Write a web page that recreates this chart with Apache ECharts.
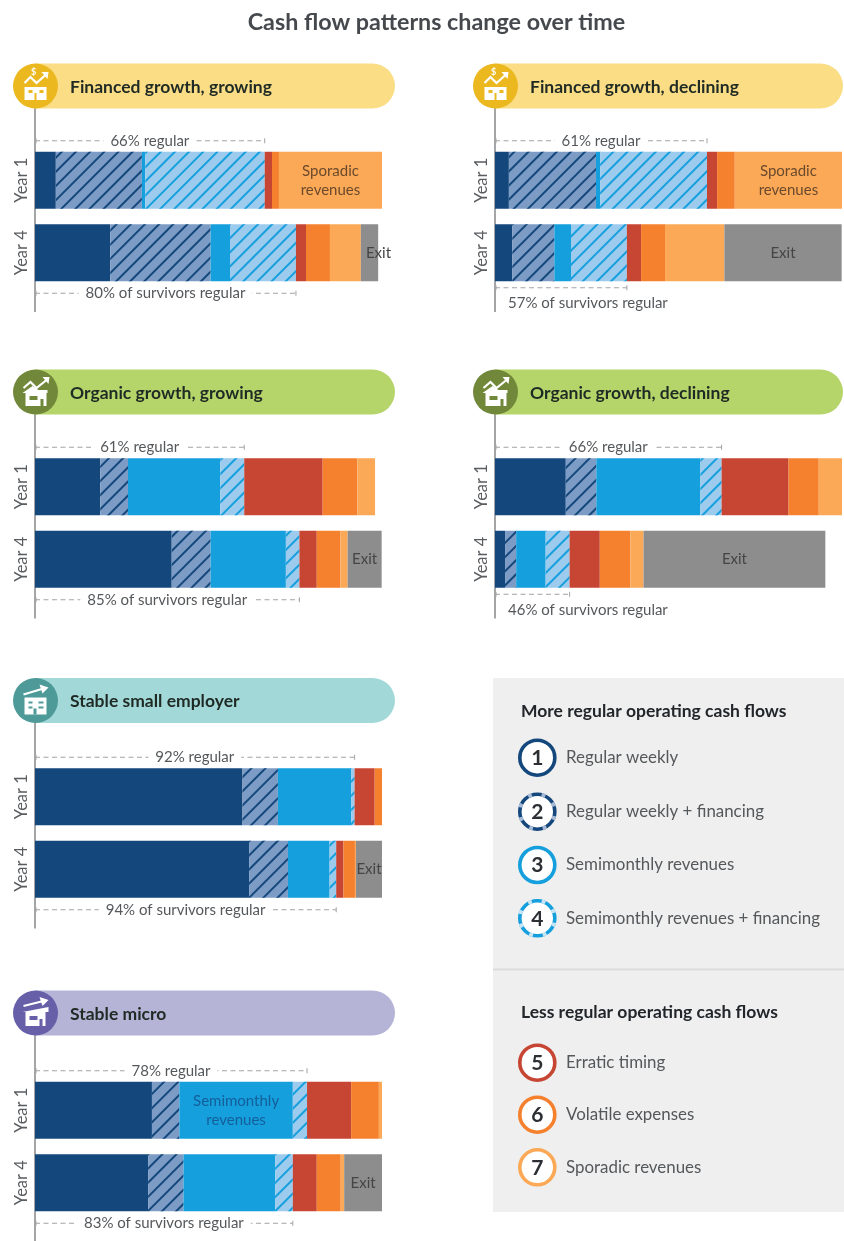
<!DOCTYPE html>
<html><head><meta charset="utf-8"><style>html,body{margin:0;padding:0;background:#fff}#c{width:844px;height:1241px}</style>
<script src="https://cdn.jsdelivr.net/npm/echarts@6/dist/echarts.min.js"></script></head>
<body><div id="c"></div><script>
const chartTitle = 'Cash flow patterns change over time';
const categories = ['Year 1', 'Year 4'];
const seriesNames = ['Regular weekly', 'Regular weekly + financing', 'Semimonthly revenues', 'Semimonthly revenues + financing', 'Erratic timing', 'Volatile expenses', 'Sporadic revenues', 'Exit'];
const panelTitles = ['Financed growth, growing', 'Financed growth, declining', 'Organic growth, growing', 'Organic growth, declining', 'Stable small employer', 'Stable micro'];

// share of firms (%), one row per year, in the order of seriesNames
const financedGrowing  = [[6.0, 24.8, 1.0, 34.4, 2.1, 2.0, 29.7, 0], [21.7, 28.9, 5.6, 19.0, 2.9, 6.9, 8.9, 5.0]];
const financedDeclining = [[4.0, 25.1, 1.2, 30.8, 2.9, 5.1, 31.0, 0], [5.0, 12.1, 4.8, 16.1, 4.1, 6.9, 17.1, 33.8]];
const organicGrowing   = [[18.8, 8.0, 26.6, 6.9, 22.6, 10.0, 5.1, 0], [39.4, 11.2, 21.7, 3.9, 5.0, 6.8, 2.1, 9.8]];
const organicDeclining = [[20.4, 8.8, 30.0, 6.1, 19.3, 8.7, 6.8, 0], [2.9, 3.2, 8.5, 6.9, 8.7, 8.8, 3.8, 52.4]];
const stableEmployer   = [[59.8, 10.2, 21.1, 1.0, 5.8, 2.2, 0, 0], [61.7, 11.2, 12.0, 1.9, 2.1, 3.3, 0.3, 7.8]];
const stableMicro      = [[33.7, 7.9, 32.7, 4.1, 12.7, 8.0, 1.0, 0], [32.6, 10.2, 26.4, 5.1, 6.9, 6.9, 1.0, 10.9]];
const panelValues = [financedGrowing, financedDeclining, organicGrowing, organicDeclining, stableEmployer, stableMicro];

const regularLabels = [['66% regular', '80% of survivors regular'], ['61% regular', '57% of survivors regular'], ['61% regular', '85% of survivors regular'], ['66% regular', '46% of survivors regular'], ['92% regular', '94% of survivors regular'], ['78% regular', '83% of survivors regular']];
// [panel, year, series, text]
const insideLabels = [[0,0,6,'Sporadic\nrevenues'],[0,1,7,'Exit'],[1,0,6,'Sporadic\nrevenues'],[1,1,7,'Exit'],[2,1,7,'Exit'],[3,1,7,'Exit'],[4,1,7,'Exit'],[5,0,2,'Semimonthly\nrevenues'],[5,1,7,'Exit']];

const legendHeadings = ['More regular operating cash flows', 'Less regular operating cash flows'];
const FONT = 'Lato, "Noto Sans", sans-serif';
const NAVY='#14477c', BLUE='#169fdd';
const segColors = [NAVY, '#7d9cc5', BLUE, '#9ccbee', '#c64533', '#f5812f', '#fba957', '#8d8d8d'];
const hatch = c => ({symbol:'rect', symbolSize:1, dashArrayX:[1,0], dashArrayY:[1.8,7.6], rotation:-Math.PI/4, color:c});
const decals = [null, hatch(NAVY), null, hatch(BLUE), null, null, null, null];

const layout = [
 {x:35,  w:347, pillR:395, top:144,   pill:86,  circle:'#ecb820', pillC:'#fadd85', icon:'finance', below:false},
 {x:495, w:347, pillR:843, top:144,   pill:86,  circle:'#ecb820', pillC:'#fadd85', icon:'finance', below:true},
 {x:35,  w:347, pillR:395, top:450.5, pill:392, circle:'#71883a', pillC:'#b5d56b', icon:'organic', below:false},
 {x:495, w:347, pillR:843, top:450.5, pill:392, circle:'#71883a', pillC:'#b5d56b', icon:'organic', below:true},
 {x:35,  w:347, pillR:395, top:760.5, pill:700.5, circle:'#4d9a98', pillC:'#a3d8d9', icon:'employer', below:false},
 {x:35,  w:347, pillR:395, top:1074,  pill:1013, circle:'#675fa8', pillC:'#b5b3d6', icon:'micro', below:false}
];
const BAND=72.5, BAR=57;

const grids=[], xAxes=[], yAxes=[], series=[], titles=[], graphics=[];
titles.push({text:chartTitle, left:431.5, top:6, textAlign:'center', textStyle:{fontFamily:FONT,fontSize:23.3,fontWeight:700,color:'#45494d'}});

function iconEls(kind, cx, cy, bg){
  const W='#fff', els=[];
  const rect=(x,y,w,h,fill)=>els.push({type:'rect',z:4,shape:{x:cx+x,y:cy+y,width:w,height:h},style:{fill:fill||W}});
  const arrow=(pts,head)=>{els.push({type:'polyline',z:4,shape:{points:pts.map(p=>[cx+p[0],cy+p[1]])},style:{stroke:W,fill:null,lineWidth:2.2}});
    els.push({type:'polygon',z:4,shape:{points:head.map(p=>[cx+p[0],cy+p[1]])},style:{fill:W}});};
  if(kind==='finance'){
    arrow([[-11,-3],[-5,-9],[1,-3],[10,-11]],[[6,-14],[13,-14],[12,-7]]);
    els.push({type:'text',z:4,style:{x:cx-2,y:cy-18,text:'$',fill:W,font:'700 9px '+FONT,textAlign:'center'}});
    rect(-11,1,22,13); rect(-7,4,4,3,bg); rect(4,4,4,3,bg); rect(-1,7,2,7,bg);
  } else if(kind==='organic'){
    arrow([[-12,-4],[-5,-10],[1,-4],[11,-12]],[[7,-15],[14,-15],[13,-8]]);
    els.push({type:'polygon',z:4,shape:{points:[[cx-13,cy+1],[cx-3,cy-6],[cx+3,cy-2],[cx+12,cy-2],[cx+12,cy+1]]},style:{fill:W}});
    rect(-10,1,21,13); rect(-6,4,8,4,bg); rect(5,7,3,7,bg);
  } else if(kind==='employer'){
    arrow([[-12,-6],[8,-12]],[[4,-16],[13,-13],[7,-7]]);
    rect(-11,-3,22,17); rect(-7,1,4,2,bg); rect(3,1,5,2,bg); rect(-7,6,4,2,bg); rect(3,6,5,2,bg); rect(-2,8,3,6,bg);
  } else {
    arrow([[-12,-7],[8,-12]],[[4,-16],[13,-13],[7,-7]]);
    els.push({type:'polygon',z:4,shape:{points:[[cx-13,cy-1],[cx+13,cy-6],[cx+13,cy-1]]},style:{fill:W}});
    rect(-10,-1,20,14); rect(-6,3,8,4,bg); rect(4,6,3,7,bg);
  }
  return els;
}

panelValues.forEach((rows,p)=>{
  const L=layout[p];
  grids.push({left:L.x, top:L.top, width:L.w, height:BAND*2});
  xAxes.push({type:'value', gridIndex:p, min:0, max:100, show:false});
  yAxes.push({type:'category', gridIndex:p, data:categories, inverse:true,
    axisLine:{show:false}, axisTick:{show:false}, splitLine:{show:false},
    axisLabel:{rotate:90, margin:5, fontFamily:FONT, fontSize:16.5, color:'#5a5d60'}});
  seriesNames.forEach((name,s)=>{
    series.push({name, type:'bar', stack:'p'+p, xAxisIndex:p, yAxisIndex:p, barWidth:BAR, silent:true,
      itemStyle:decals[s]?{color:segColors[s],decal:decals[s]}:{color:segColors[s]},
      data:rows.map((r,y)=>{
        const note=insideLabels.find(n=>n[0]===p&&n[1]===y&&n[2]===s);
        const d={value:r[s]};
        if(note){
          const inBlue=s===2;
          let off=[0,0];
          if(p===0&&s===7) off=[9,0];
          d.label={show:true,position:'inside',formatter:note[3],offset:off,fontFamily:FONT,fontSize:15,lineHeight:19,color:inBlue?'#145f9a':(s===6?'#6b4a2c':'#454545')};
        }
        return d;
      })});
  });
  // bracket showing the regular share, measured from the first four series
  const bracketData = rows.map((r,y)=>[r.slice(0,4).reduce((a,b)=>a+b,0), y, regularLabels[p][y]]);
  series.push({type:'custom', xAxisIndex:p, yAxisIndex:p, silent:true, z:5, clip:false,
    data:bracketData,
    renderItem:(params,api)=>{
      const y=api.value(1), lab=bracketData[params.dataIndex][2];
      const a=api.coord([0,y]), b=api.coord([api.value(0),y]);
      const isY4=y===1, below=isY4&&L.below;
      const yy=isY4? a[1]+BAR/2+(below?6.5:12): a[1]-BAR/2-11;
      const st={stroke:'#a3a3a3',lineWidth:1,lineDash:[5,3.5]}, tick={stroke:'#a3a3a3',lineWidth:1};
      const children=[
        {type:'line',shape:{x1:a[0],y1:yy,x2:b[0],y2:yy},style:st},
        {type:'line',shape:{x1:a[0]+1,y1:yy-2.5,x2:a[0]+1,y2:yy+2.5},style:tick},
        {type:'line',shape:{x1:b[0],y1:yy-2.5,x2:b[0],y2:yy+2.5},style:tick}];
      if(below) children.push({type:'text',style:{x:a[0]+13,y:yy+15.5,text:lab,fill:'#55585b',font:'15px '+FONT,textAlign:'left',textVerticalAlign:'middle'}});
      else children.push({type:'text',style:{x:(a[0]+b[0])/2,y:yy,text:lab,fill:'#55585b',font:'15px '+FONT,textAlign:'center',textVerticalAlign:'middle',backgroundColor:'#fff',padding:[1,7]}});
      return {type:'group',children};
    }});
  titles.push({text:panelTitles[p], left:L.x+30, top:L.pill-13, textStyle:{fontFamily:FONT,fontSize:17.5,fontWeight:700,color:'#1f2a24'}});
  const bottomY=L.top+BAND*2+(p===5?60:23);
  graphics.push({type:'line',z:1,shape:{x1:L.x,y1:L.pill,x2:L.x,y2:bottomY},style:{stroke:'#85878a',lineWidth:1.5}});
  graphics.push({type:'rect',z:2,shape:{x:L.x,y:L.pill-22.5,width:L.pillR-L.x,height:45,r:[0,22.5,22.5,0]},style:{fill:L.pillC}});
  graphics.push({type:'circle',z:3,shape:{cx:L.x+0.5,cy:L.pill,r:22.5},style:{fill:L.circle}});
  iconEls(L.icon,L.x+0.5,L.pill,L.circle).forEach(e=>graphics.push(e));
});

// key panel
graphics.push({type:'rect',z:1,shape:{x:493,y:678,width:351,height:534},style:{fill:'#efefef'}});
graphics.push({type:'line',z:2,shape:{x1:493,y1:969.5,x2:844,y2:969.5},style:{stroke:'#dcdcdc',lineWidth:2}});
const keyY=[757.7,811.7,865,918.3,1062.7,1114.7,1167.3];
const keyColors=[NAVY,NAVY,BLUE,BLUE,'#c64533','#f5812f','#fba957'];
[[711,0],[1012.5,1]].forEach(h=>graphics.push({type:'text',z:3,style:{x:521,y:h[0],text:legendHeadings[h[1]],fill:'#22262a',font:'700 17.5px '+FONT,textVerticalAlign:'middle'}}));
seriesNames.slice(0,7).forEach((name,i)=>{
  const cy=keyY[i], cx=537.3;
  graphics.push({type:'circle',z:3,shape:{cx,cy,r:17.5},style:{fill:'#fff',stroke:keyColors[i],lineWidth:3.6}});
  if(i===1||i===3) for(let k=0;k<8;k++){
    const a0=k*Math.PI/4+0.25;
    graphics.push({type:'arc',z:4,shape:{cx,cy,r:17.5,startAngle:a0,endAngle:a0+0.22},style:{stroke:i===1?'#a8bbd6':'#c6e4f6',lineWidth:4,fill:null}});
  }
  graphics.push({type:'text',z:5,style:{x:cx,y:cy+0.5,text:String(i+1),fill:'#2c2f33',font:'700 21px '+FONT,textAlign:'center',textVerticalAlign:'middle'}});
  graphics.push({type:'text',z:5,style:{x:566,y:cy,text:name,fill:'#55585b',font:'16.9px '+FONT,textVerticalAlign:'middle'}});
});

const chart=echarts.init(document.getElementById('c'),null,{renderer:'canvas'});
chart.setOption({animation:false,backgroundColor:'#fff',title:titles,grid:grids,xAxis:xAxes,yAxis:yAxes,series,graphic:graphics});
</script></body></html>
